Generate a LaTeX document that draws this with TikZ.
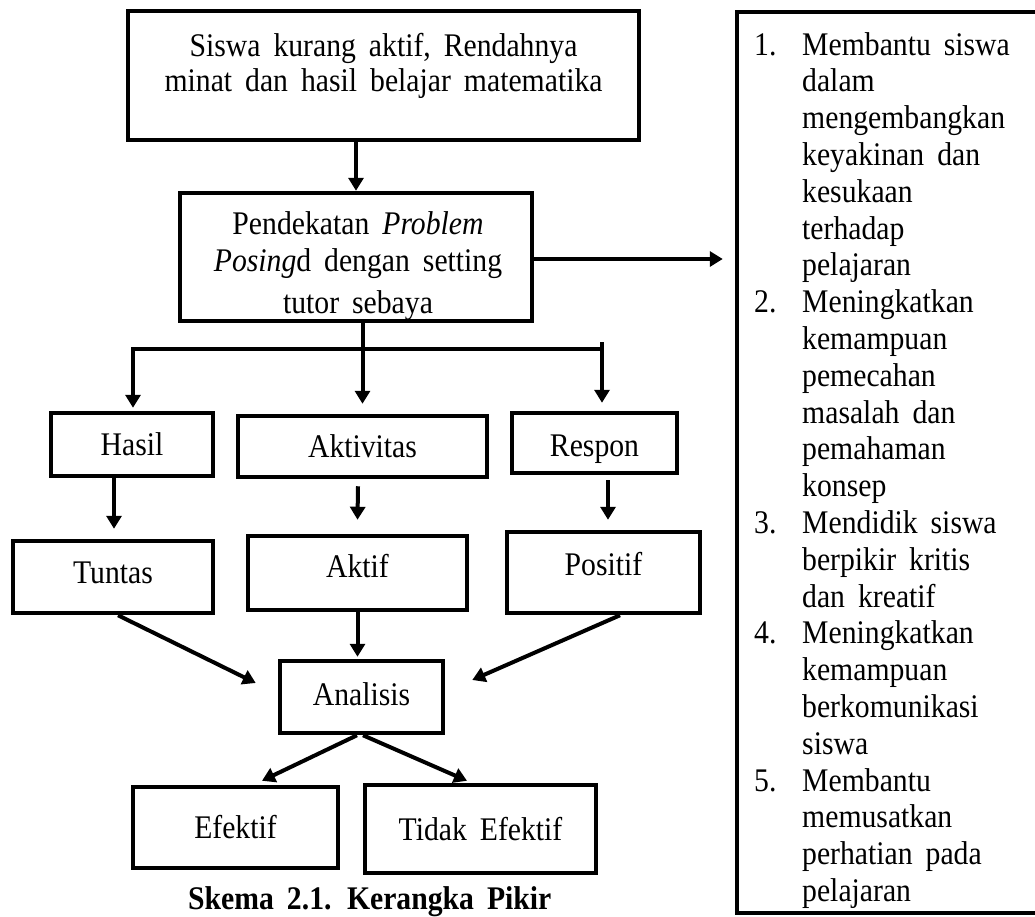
\documentclass[tikz,border=0pt]{standalone}
\usepackage{fontspec}
\setmainfont{Liberation Serif}[FakeStretch=0.9,WordSpace=1.75]
\usetikzlibrary{arrows.meta,calc}
\begin{document}
\begin{tikzpicture}[x=1pt,y=-1pt,
  every node/.style={font=\fontsize{33}{37}\selectfont},
  box/.style={draw,line width=4.5pt,inner sep=0pt,text height=22pt,text depth=0pt},
  arr/.style={line width=4pt,-{Triangle[length=13pt,width=15pt]}},
  lbl/.style={inner sep=0pt,anchor=base},
  item/.style={inner sep=0pt,anchor=base west},
]
\useasboundingbox (0,0) rectangle (1035,916);
\clip (0,0) rectangle (1035,916);

% top box
\node[box,minimum width=511pt,minimum height=129pt] (top) at (383.5,75.5) {};
\node[lbl] (topa) at (383.5,56) {Siswa kurang aktif, Rendahnya};
\node[lbl] (topb) at (383.5,91) {minat dan hasil belajar matematika};

% middle box
\node[box,minimum width=352pt,minimum height=128pt] (mid) at (356,257) {};
\begin{scope}
\clip ($(mid.south west)+(2.5,-2.5)$) rectangle ($(mid.north east)+(-2.5,2.5)$);
\node[lbl] (mida) at (358,234) {Pendekatan \textit{Problem}};
\node[lbl] (midb) at (358,271) {\textit{Posing}d dengan setting};
\node[lbl] (midc) at (358,313) {tutor sebaya};
\end{scope}

% second row
\node[box,minimum width=162pt,minimum height=63pt] (hasil) at (132,444.5) {Hasil};
\node[box,minimum width=249pt,minimum height=61pt] (aktivitas) at (362.5,446.5) {Aktivitas};
\node[box,minimum width=165pt,minimum height=60pt,text height=26pt] (respon) at (594.5,443) {Respon};

% third row
\node[box,minimum width=200pt,minimum height=72pt,text depth=9pt] (tuntas) at (113,577) {Tuntas};
\node[box,minimum width=219pt,minimum height=74pt,text depth=14pt] (aktif) at (357.5,573) {Aktif};
\node[box,minimum width=193pt,minimum height=81pt,text depth=17pt] (positif) at (603.5,572.5) {Positif};

% analysis and results
\node[box,minimum width=163pt,minimum height=72pt,text depth=6pt] (analisis) at (361.5,697) {Analisis};
\node[box,minimum width=205pt,minimum height=81pt] (efektif) at (235.5,827.5) {Efektif};
\node[box,minimum width=231pt,minimum height=88pt] (tidak) at (480.5,829) {Tidak Efektif};

% right box
\node[box,minimum width=363pt,minimum height=901pt] (rbox) at (918.5,462.5) {};
\foreach \t [count=\i from 0] in {Membantu siswa, dalam, mengembangkan, keyakinan dan, kesukaan, terhadap, pelajaran, Meningkatkan, kemampuan, pemecahan, masalah dan, pemahaman, konsep, Mendidik siswa, berpikir kritis, dan kreatif, Meningkatkan, kemampuan, berkomunikasi, siswa, Membantu, memusatkan, perhatian pada, pelajaran}
  \node[item] (li\i) at (802,55+36.8*\i) {\t};
\foreach \n/\k in {1/0,2/7,3/13,4/16,5/20}
  \node[item] (num\n) at (754,55+36.8*\k) {\n.};

% caption
\node[item] (cap) at (188,909) {\bfseries Skema 2.1. Kerangka Pikir};

% connectors
\draw[arr] (top.south -| mid.north) -- (mid.north);
\coordinate (bl) at (133,349);
\coordinate (br) at (602,349);
\coordinate (brt) at (602,342);
\draw[arr] (mid.south -| aktivitas.north) -- ($(aktivitas.north)+(0,-10)$);
\draw[arr] (br) -- (bl) -- ($(bl |- hasil.north)+(0,-3)$);
\draw[arr] (brt) -- ($(brt |- respon.north)+(0,-8)$);
\draw[arr] ($(mid.east)+(0,2)$) -- ($(rbox.west |- mid.east)+(-12,2)$);

\draw[arr] ($(hasil.south)+(-18,0)$) -- ($(tuntas.north)+(1,-10)$);
\draw[arr] ($(aktivitas.south)+(-4.5,7)$) -- ($(aktif.north)+(0,-14)$);
\draw[arr] ($(respon.south)+(13.5,5)$) -- ($(positif.north)+(4.5,-10)$);

\draw[arr] ($(tuntas.south)+(5,0)$) -- ($(analisis.west)+(-22,-14)$);
\draw[arr] (aktif.south) -- ($(aktif.south |- analisis.north)+(0,-2)$);
\draw[arr] ($(positif.south)+(16.5,0)$) -- ($(analisis.east)+(27,-17)$);

\draw[arr] ($(analisis.south)+(-4.5,0)$) -- ($(efektif.north)+(26.5,-4)$);
\draw[arr] ($(analisis.south)+(1.5,0)$) -- ($(tidak.north)+(-13.5,-2)$);
\end{tikzpicture}
\end{document}
